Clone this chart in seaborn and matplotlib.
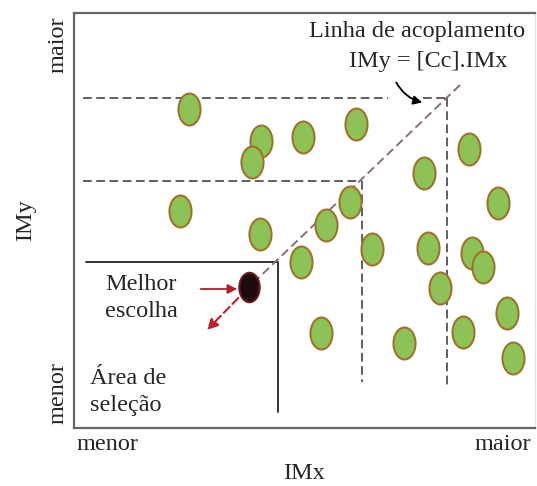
import numpy as np
import pandas as pd
import matplotlib
matplotlib.use("Agg")
import matplotlib.pyplot as plt
from matplotlib.path import Path
from matplotlib.markers import MarkerStyle
from matplotlib.transforms import Affine2D
import seaborn as sns

# candidate points (IMx, IMy)
imx = [115, 187, 178, 106, 186, 229, 282, 395, 350, 424, 276, 252,
       227, 298, 354, 398, 409, 366, 433, 247, 330, 389, 439]
imy = [319, 287, 266, 217, 194, 291, 304, 279, 255, 225, 226, 203,
       166, 179, 180, 175, 161, 140, 115, 95, 85, 96, 70]

# best choice
best_x = [175]
best_y = [141]

# coupling line and guides
coupling_x = [386, 175]
coupling_y = [343, 141]
guide_hi = (373, 330)
guide_lo = (288, 247)
select_corner = (204, 166)

x_ticks = [33, 429]
y_ticks = [35, 383]
tick_labels = ["menor", "maior"]

df = pd.DataFrame({"IMx": imx, "IMy": imy})
best = pd.DataFrame({"IMx": best_x, "IMy": best_y})

sns.set_style("white")
plt.rcParams["font.family"] = ["Liberation Serif", "DejaVu Serif"]

fig = plt.figure(figsize=(5.37, 4.86), dpi=100)
ax = fig.add_axes([74 / 537, 58 / 486, 461 / 537, 415 / 486])

# ellipse marker
ell = Path.unit_circle().transformed(Affine2D().scale(0.69, 1.0))
ell_marker = MarkerStyle(ell)

sns.scatterplot(data=df, x="IMx", y="IMy", ax=ax, marker=ell_marker, s=530,
                color="#8cc256", edgecolor="#a0722e", linewidth=1.5, zorder=3)
sns.scatterplot(data=best, x="IMx", y="IMy", ax=ax, marker=ell_marker, s=450,
                color="#1c0b0d", edgecolor="#6a1a1f", linewidth=1.5, zorder=4)

dash = dict(color="#5f5f5f", lw=1.4, ls=(0, (4.5, 2.3)), zorder=1)
# upper guide
ax.plot([9, 314], [guide_hi[1], guide_hi[1]], **dash)
ax.plot([349, guide_hi[0]], [guide_hi[1], guide_hi[1]], **dash)
ax.plot([guide_hi[0], guide_hi[0]], [guide_hi[1], 41], **dash)
# lower guide
ax.plot([9, guide_lo[0]], [guide_lo[1], guide_lo[1]], **dash)
ax.plot([guide_lo[0], guide_lo[0]], [guide_lo[1], 46], **dash)

# coupling line
ax.plot(coupling_x, coupling_y, color="#8a6f78", lw=1.4, ls=(0, (4.5, 2.3)), zorder=2)
ax.annotate("", xy=(131, 96), xytext=(best_x[0], best_y[0]),
            arrowprops=dict(arrowstyle="-|>", color="#c0202a", lw=1.5,
                            ls=(0, (4, 2)), mutation_scale=16), zorder=2)

# selection area
ax.plot([12, select_corner[0], select_corner[0]],
        [select_corner[1], select_corner[1], 16], color="#333333", lw=1.4, zorder=1)

# best choice arrow
ax.annotate("", xy=(166, 139), xytext=(124, 139),
            arrowprops=dict(arrowstyle="-|>", color="#b0202a", lw=1.3,
                            mutation_scale=14))

# coupling line label
ax.text(343, 396, "Linha de acoplamento", ha="center", va="center", fontsize=17.5)
ax.text(354, 366, "IMy = [Cc].IMx", ha="center", va="center", fontsize=17.5)
ax.annotate("", xy=(351, 325), xytext=(321, 348),
            arrowprops=dict(arrowstyle="-|>", color="black", lw=1.3,
                            connectionstyle="arc3,rad=0.25", mutation_scale=13))

ax.text(31, 130, "Melhor\nescolha", ha="left", va="center", fontsize=17.5,
        linespacing=1.4)
ax.text(16, 36, "Área de\nseleção", ha="left", va="center", fontsize=17.5,
        linespacing=1.4)

ax.set_xlim(0, 461)
ax.set_ylim(0, 415)
ax.set_xticks(x_ticks)
ax.set_xticklabels(tick_labels, fontsize=17.5)
ax.set_yticks(y_ticks)
ax.set_yticklabels(tick_labels, fontsize=17.5, rotation=90, va="center")
ax.tick_params(length=0, pad=4)
ax.set_xlabel("IMx", fontsize=17.5, labelpad=6)
ax.set_ylabel("IMy", fontsize=17.5, labelpad=8)

for side in ["left", "bottom", "top"]:
    ax.spines[side].set_color("#666666")
    ax.spines[side].set_linewidth(1.6)
ax.spines["right"].set_color("#e4e4e4")
ax.spines["right"].set_linewidth(1.0)

fig.savefig("out.png", dpi=100)
